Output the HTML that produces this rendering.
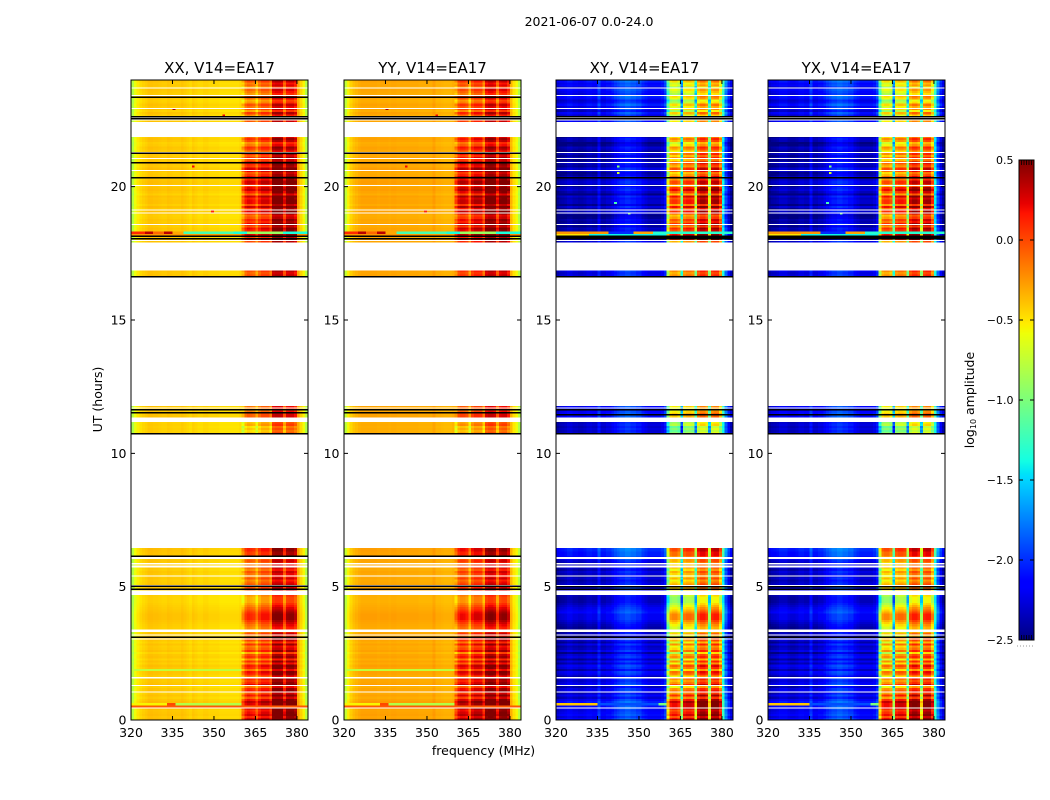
<!DOCTYPE html>
<html lang="en">
<head>
<meta charset="utf-8">
<title>2021-06-07 amplitude spectrogram</title>
<style>
html,body{margin:0;padding:0;background:#fff;}
svg{display:block;}
text{font-family:"DejaVu Sans","Liberation Sans",sans-serif;fill:#000;}
</style>
</head>
<body>
<svg id="chart" xmlns="http://www.w3.org/2000/svg" width="1050" height="800" viewBox="0 0 1050 800">
  <text x="589" y="26" font-size="12.5" text-anchor="middle">2021-06-07 0.0-24.0</text>
  <text x="483.5" y="755" font-size="12.5" text-anchor="middle">frequency (MHz)</text>
  <text x="102" y="399.5" font-size="12.5" text-anchor="middle" transform="rotate(-90 102 399.5)">UT (hours)</text>
  <text x="974" y="400" font-size="12.5" text-anchor="middle" transform="rotate(-90 974 400)">log<tspan font-size="8" dy="2">10</tspan><tspan dy="-2"> amplitude</tspan></text>
</svg>
<script>
// ---------- data ----------
const polarisations = ['XX, V14=EA17', 'YY, V14=EA17', 'XY, V14=EA17', 'YX, V14=EA17'];
const xTicks = [320, 335, 350, 365, 380];
const yTicks = [0, 5, 10, 15, 20];
const colorbarTicks = [-2.5, -2.0, -1.5, -1.0, -0.5, 0.0, 0.5];

// log10 amplitude per 1 MHz channel, 320..383 MHz
const profileXX = [-0.8,-0.6,-0.52,-0.47,-0.44,-0.42,-0.39,-0.39,-0.4,-0.4,
  -0.41,-0.42,-0.42,-0.4,-0.41,-0.42,-0.42,-0.42,-0.4,-0.42,
  -0.44,-0.46,-0.42,-0.44,-0.46,-0.46,-0.44,-0.44,-0.46,-0.46,
  -0.46,-0.46,-0.48,-0.48,-0.48,-0.48,-0.48,-0.48,-0.48,-0.46,
  -0.35,-0.12,-0.05,-0.08,-0.12,-0.3,-0.1,0.0,0.0,0.0,
  -0.15,0.3,0.33,0.33,0.3,-0.02,0.26,0.28,0.28,0.18,
  -0.3,-0.45,-0.56,-0.8];
const profileYY = [-0.75,-0.55,-0.44,-0.38,-0.35,-0.32,-0.3,-0.3,-0.3,-0.3,
  -0.3,-0.3,-0.31,-0.3,-0.3,-0.3,-0.31,-0.3,-0.3,-0.31,
  -0.31,-0.31,-0.31,-0.31,-0.31,-0.31,-0.31,-0.32,-0.32,-0.32,
  -0.32,-0.32,-0.28,-0.33,-0.33,-0.34,-0.35,-0.35,-0.35,-0.33,
  -0.25,-0.02,0.03,0.02,-0.03,-0.28,0.02,0.1,0.1,0.08,
  -0.15,0.27,0.32,0.32,0.27,-0.05,0.24,0.28,0.28,0.14,
  -0.35,-0.5,-0.58,-0.8];
const profileXY = [-2.45,-2.4,-2.38,-2.35,-2.3,-2.3,-2.35,-2.35,-2.38,-2.38,
  -2.35,-2.3,-2.3,-2.33,-2.33,-2.12,-2.33,-2.33,-2.28,-2.28,
  -2.22,-2.15,-2.1,-2.05,-2.05,-2.0,-2.0,-2.05,-2.05,-2.1,
  -2.1,-2.2,-2.25,-2.3,-2.3,-2.3,-2.3,-2.3,-2.25,-2.1,
  -1.0,-0.5,-0.45,-0.45,-0.55,-1.5,-0.4,-0.35,-0.35,-0.4,
  -1.2,-0.2,-0.1,-0.1,-0.2,-1.1,-0.15,-0.1,-0.1,-0.4,
  -1.4,-1.9,-2.2,-2.4];
const profileYX = [-2.45,-2.4,-2.38,-2.35,-2.3,-2.3,-2.3,-2.35,-2.38,-2.38,
  -2.35,-2.3,-2.3,-2.33,-2.33,-2.12,-2.33,-2.33,-2.28,-2.28,
  -2.22,-2.15,-2.1,-2.05,-2.05,-2.0,-2.0,-2.05,-2.05,-2.1,
  -2.1,-2.2,-2.25,-2.3,-2.3,-2.3,-2.3,-2.3,-2.25,-2.1,
  -1.0,-0.5,-0.45,-0.45,-0.55,-1.5,-0.4,-0.35,-0.35,-0.4,
  -1.2,-0.2,-0.1,-0.1,-0.2,-1.1,-0.15,-0.1,-0.1,-0.4,
  -1.4,-1.9,-2.2,-2.4];

// drift of the bright band and the quiet band for each UT hour (0..23)
const brightDriftCo = [0.1,0.1,0,-0.05,-0.02,-0.05,-0.05,0,0,0,-0.25,-0.15,0,0,0,0,-0.1,0,0.12,0.14,0.12,0,-0.05,-0.1];
const brightDriftCross = [0.3,0.1,0,-0.1,-0.1,0,0.1,0,0,0,-0.4,-0.2,0,0,0,0,0,0,0.3,0.3,0.1,0,-0.2,-0.25];
const quietDriftCo = [0,0,0,0,0,0,0,0,0,0,0,0,0,0,0,0,0,0,0,0,0,0,0,0];
const quietDriftCross = [0.05,0.05,0,-0.05,0.1,0,0.15,0,0,0,0.1,0.1,0,0,0,0,0,0,-0.1,-0.1,-0.1,-0.1,0.1,0.15];

// observed scans: first UT hour and row-by-row ripple (units of 0.1 dex)
const scanStarts = [0, 10.72, 16.64, 17.92, 22.4];
const scanRipple0 = [3,1,3,2,1,3,3,3,4,2,-1,2,-1,2,1,-2,3,1,0,2,-2,1,2,-2,1,3,-1,2,-2,2,1,-3,2,0,-1,2,-2,1,2,-1,1,-2,-1,-1,0,1,2,3,3,3,2,1,0,-1,-2,-3,-3,-3,-2,-1,0,1,1,1,0,-1,1,-1,0,1,-1,1,0,-1,1,0,1,2,2,3,3];
const scanRipple1 = [-1,-2,-1,-2,-1,-2,0,1,2,2,1,0,1,1];
const scanRipple2 = [2,1,2];
const scanRipple3 = [1,2,0,3,2,1,2,-1,2,0,1,-1,-2,1,2,0,3,-1,2,2,1,3,-2,1,3,2,0,3,3,1,2,0,-1,2,3,0,1,3,-1,2,0,2,-1,1,2,-1,-2,1,2,0];
const scanRipple4 = [1,2,0,-1,2,-2,1,0,2,-1,-2,1,2,-1,0,1,-2,1,0,2];
const scanRipples = [scanRipple0, scanRipple1, scanRipple2, scanRipple3, scanRipple4];

// interference rows: [UT hour, first channel, last channel, value]
const rfiCo = [[18.28,0,5,0.1],[18.28,5,8,0.35],[18.28,8,12,-0.1],[18.28,12,15,0.35],[18.28,15,19,-0.3],
  [18.28,19,37,-1.2],[18.28,37,42,-1.35],[18.28,42,55,-0.9],[18.28,55,64,-1.35],
  [18.2,0,40,-0.25],[18.2,60,64,-0.2],
  [0.6,0,13,-0.55],[0.6,13,16,0.0],[0.6,16,40,-0.8],[0.52,0,64,-0.05],[1.88,0,40,-0.75]];
const rfiCross = [[18.28,0,19,-0.25],[18.28,19,28,-2.0],[18.28,28,35,-0.3],[18.28,35,64,-1.3],
  [18.2,0,12,-0.5],[18.2,12,40,-1.4],[0.6,0,15,-0.4],[0.6,15,37,-1.9],[0.6,37,40,-1.0]];

// isolated hot points: [UT hour, channel, value]
const speckCo = [[22.92,15,0.4],[22.66,33,0.2],[20.78,22,0.2],[20.56,22,0.4],[19.1,29,0.1]];
const speckCross = [[20.74,22,-1.0],[20.5,22,-0.7],[19.4,21,-1.2],[19.02,26,-1.0]];

// empty (flagged) time ranges in UT hours, shared by all panels
const emptyRanges = [[0.44,0.47],[1.03,1.07],[1.27,1.31],[1.53,1.56],[1.58,1.61],[3.02,3.06],[3.16,3.2],[3.3,3.4],
  [4.69,4.85],[5.02,5.06],[5.38,5.42],[5.72,5.79],[5.83,5.88],[6.04,6.12],[6.45,10.74],[11.18,11.35],[11.68,11.72],
  [11.78,16.65],[16.85,17.9],[17.96,18.0],[18.56,18.6],[19.0,19.04],[19.1,19.14],[20.03,20.07],[20.58,20.62],
  [20.88,20.92],[21.04,21.08],[21.26,21.3],[21.87,22.43],[22.48,22.52],[22.55,22.59],[22.91,22.95],[23.4,23.44],[23.68,23.72]];
// black marker rows in UT hours
const markersCo = [3.11,4.9,5.02,6.15,10.74,11.52,11.63,16.62,18.04,18.15,20.33,20.89,21.26,22.54,22.63,23.36];
const markersCross = [3.11,4.9,5.0,10.74,11.45,11.63,16.62,18.04,18.09,18.15,20.33,22.54,22.63];

// ---------- layout and scales ----------
const svg = document.getElementById('chart');
const NS = 'http://www.w3.org/2000/svg';
const panelLefts = [131, 344, 556, 768];
const plotWidth = 177, plotTop = 80, plotBottom = 720;
const xMin = 320, xMax = 384, yMin = 0, yMax = 24;
const cbLeft = 1019, cbRight = 1034, cbTop = 160, cbBottom = 640, cbMin = -2.5, cbMax = 0.5;
const rowHours = 0.08;

function xScale(left, mhz) { return left + (mhz - xMin) / (xMax - xMin) * plotWidth; }
function yScale(hour) { return plotBottom - (hour - yMin) / (yMax - yMin) * (plotBottom - plotTop); }
function cbScale(value) { return cbBottom - (value - cbMin) / (cbMax - cbMin) * (cbBottom - cbTop); }

function interp(points, t) {
  for (let i = 1; i < points.length; i++) {
    if (t <= points[i][0]) {
      const a = points[i - 1], b = points[i];
      return a[1] + (b[1] - a[1]) * (t - a[0]) / (b[0] - a[0]);
    }
  }
  return points[points.length - 1][1];
}
const jetR = [[0,0],[0.35,0],[0.66,1],[0.89,1],[1,0.5]];
const jetG = [[0,0],[0.125,0],[0.375,1],[0.64,1],[0.91,0],[1,0]];
const jetB = [[0,0.5],[0.11,1],[0.34,1],[0.65,0],[1,0]];
function jet(value) {
  const t = Math.max(0, Math.min(1, (value - cbMin) / (cbMax - cbMin)));
  return 'rgb(' + Math.round(interp(jetR, t) * 255) + ',' + Math.round(interp(jetG, t) * 255) + ',' + Math.round(interp(jetB, t) * 255) + ')';
}
function make(tag, attrs, parent) {
  const el = document.createElementNS(NS, tag);
  for (const k in attrs) el.setAttribute(k, attrs[k]);
  parent.appendChild(el);
  return el;
}
function label(str, x, y, size, anchor, parent) {
  const el = make('text', { x: x, y: y, 'font-size': size, 'text-anchor': anchor }, parent);
  el.textContent = str;
  return el;
}

// ---------- panels ----------
const profiles = [profileXX, profileYY, profileXY, profileYX];
polarisations.forEach(function (title, p) {
  const left = panelLefts[p];
  const cross = p >= 2;
  const profile = profiles[p];
  const brightDrift = cross ? brightDriftCross : brightDriftCo;
  const quietDrift = cross ? quietDriftCross : quietDriftCo;
  const rfi = cross ? rfiCross : rfiCo;
  const speck = cross ? speckCross : speckCo;
  const markers = cross ? markersCross : markersCo;
  const brightWeight = cross ? 0.12 : 0.08;
  const quietWeight = cross ? 0.05 : 0.01;

  const panel = make('g', {}, svg);
  
  

  const heat = make('g', { 'shape-rendering': 'crispEdges' }, panel);
  
  

  scanStarts.forEach(function (start, s) {
    scanRipples[s].forEach(function (ripple, i) {
      const hour = start + i * rowHours;
      const hourIndex = Math.min(23, Math.floor(hour));
      const yTop = yScale(hour + rowHours);
      const yBot = yScale(hour);
      profile.forEach(function (base, ch) {
        const bright = ch >= 40 && ch < 60;
        let value = bright
          ? base + brightDrift[hourIndex] + ripple * brightWeight
          : base + quietDrift[hourIndex] + ripple * quietWeight;
        rfi.forEach(function (r) {
          if (r[0] >= hour && r[0] < hour + rowHours && ch >= r[1] && ch < r[2]) value = r[3];
        });
        speck.forEach(function (d) {
          if (d[0] >= hour && d[0] < hour + rowHours && d[1] === ch) value = d[2];
        });
        const x0 = xScale(left, xMin + ch);
        const x1 = xScale(left, xMin + ch + 1);
        const cell = make('rect', { x: x0.toFixed(2), y: yTop.toFixed(2), width: (x1 - x0 + 0.2).toFixed(2), height: (yBot - yTop + 0.2).toFixed(2), fill: jet(value) }, heat);
        
        
      });
    });
  });

  const overlays = make('g', { 'shape-rendering': 'crispEdges' }, panel);
  
  
  emptyRanges.forEach(function (r) {
    const gap = make('rect', { x: left, y: yScale(r[1]), width: plotWidth, height: yScale(r[0]) - yScale(r[1]), fill: '#fff' }, overlays);
    
    
  });
  markers.forEach(function (h) {
    const line = make('rect', { x: left, y: yScale(h) - 0.75, width: plotWidth, height: 1.5, fill: '#000' }, overlays);
    
    
  });

  const frame = make('rect', { x: left, y: plotTop, width: plotWidth, height: plotBottom - plotTop, fill: 'none', stroke: '#000', 'stroke-width': 1 }, panel);
  
  

  const titleEl = label(title, left + plotWidth / 2, 73, 15, 'middle', panel);
  
  

  xTicks.forEach(function (t) {
    const x = xScale(left, t);
    const tick = make('path', { d: 'M' + x + ' ' + plotBottom + 'v-4M' + x + ' ' + plotTop + 'v4', stroke: '#000', 'stroke-width': 1, fill: 'none' }, panel);
    
    
    const lab = label(String(t), x, 737, 12.5, 'middle', panel);
    
    
  });
  yTicks.forEach(function (t) {
    const y = yScale(t);
    const tick = make('path', { d: 'M' + left + ' ' + y + 'h4M' + (left + plotWidth) + ' ' + y + 'h-4', stroke: '#000', 'stroke-width': 1, fill: 'none' }, panel);
    
    
    const lab = label(String(t), left - 4.5, y + 4.5, 12.5, 'end', panel);
    
    
  });
});

// ---------- colorbar ----------
const cbar = make('g', {}, svg);


const cbSwatches = make('g', { 'shape-rendering': 'crispEdges' }, cbar);


const cbSteps = 240;
for (let i = 0; i < cbSteps; i++) {
  const v0 = cbMin + (cbMax - cbMin) * i / cbSteps;
  const v1 = cbMin + (cbMax - cbMin) * (i + 1) / cbSteps;
  const seg = make('rect', { x: cbLeft, y: cbScale(v1), width: cbRight - cbLeft, height: cbScale(v0) - cbScale(v1) + 0.3, fill: jet((v0 + v1) / 2) }, cbSwatches);
  
  
}
const cbFrame = make('rect', { x: cbLeft, y: cbTop, width: cbRight - cbLeft, height: cbBottom - cbTop, fill: 'none', stroke: '#000', 'stroke-width': 1 }, cbar);


colorbarTicks.forEach(function (v) {
  const y = cbScale(v);
  const tick = make('path', { d: 'M' + cbLeft + ' ' + y + 'h4M' + cbRight + ' ' + y + 'h-4', stroke: '#000', 'stroke-width': 1, fill: 'none' }, cbar);
  
  
  const text = (v < 0 ? '\u2212' : '') + Math.abs(v).toFixed(1);
  const lab = label(text, cbLeft - 5.5, y + 4, 11, 'end', cbar);
  
  
});
[1, 2, 3, 4, 5].forEach(function (n) {
  const x = cbLeft + n * (cbRight - cbLeft) / 6;
  const marks = make('path', { d: 'M' + x + ' ' + cbTop + 'v5M' + x + ' ' + cbBottom + 'v-5', stroke: '#000', 'stroke-width': 0.8, fill: 'none' }, cbar);
  
  
});
const dots = make('line', { x1: cbLeft - 2, x2: cbRight, y1: 646, y2: 646, stroke: '#999', 'stroke-width': 1, 'stroke-dasharray': '1 2' }, cbar);


</script>
</body>
</html>
